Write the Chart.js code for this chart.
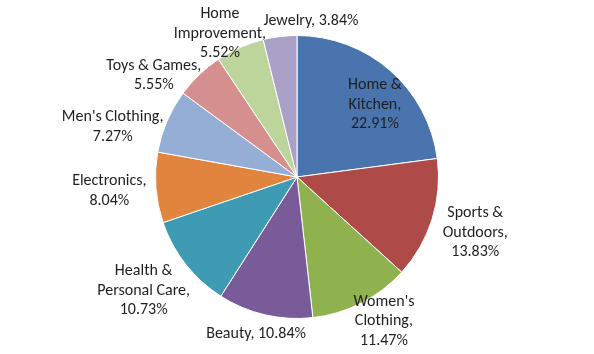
<!DOCTYPE html>
<html>
<head>
<meta charset="utf-8">
<script src="https://cdn.jsdelivr.net/npm/chart.js@4"></script>
<style>
  html, body { margin: 0; padding: 0; background: #fff; }
  #wrap { width: 594px; height: 354px; position: relative; }
</style>
</head>
<body>
<div id="wrap"><canvas id="pieChart"></canvas></div>
<script>
const categories = [
  'Home & Kitchen', 'Sports & Outdoors', "Women's Clothing", 'Beauty',
  'Health & Personal Care', 'Electronics', "Men's Clothing", 'Toys & Games',
  'Home Improvement', 'Jewelry'
];
const shares = [22.91, 13.83, 11.47, 10.84, 10.73, 8.04, 7.27, 5.55, 5.52, 3.84];
// how each label is broken into lines
const labelLines = [
  ['Home &', 'Kitchen,', '22.91%'],
  ['Sports &', 'Outdoors,', '13.83%'],
  ["Women's", 'Clothing,', '11.47%'],
  ['Beauty, 10.84%'],
  ['Health &', 'Personal Care,', '10.73%'],
  ['Electronics,', '8.04%'],
  ["Men's Clothing,", '7.27%'],
  ['Toys & Games,', '5.55%'],
  ['Home', 'Improvement,', '5.52%'],
  ['Jewelry, 3.84%']
];

const colors = ['#4a74ae', '#ae4a47', '#8fb14e', '#7a5b9a', '#3f9ab3',
  '#e0843e', '#94aed6', '#d58f8e', '#bdd49a', '#aba0c8'];

// label placement: [radius factor, angle shift in degrees]
const labelPlace = [
  [0.75, 6], [1.32, 0], [1.19, -4], [1.15, 1.5], [1.35, 1.5],
  [1.33, 0], [1.35, -8], [1.24, -11], [1.15, -4.5], [1.11, 12]
];

const labelPlugin = {
  id: 'sliceLabels',
  afterDatasetsDraw(chart) {
    const ctx = chart.ctx;
    const meta = chart.getDatasetMeta(0);
    ctx.save();
    ctx.font = '16px Carlito, Lato, sans-serif';
    ctx.fillStyle = '#1f1f1f';
    ctx.textAlign = 'center';
    ctx.textBaseline = 'middle';
    meta.data.forEach((arc, i) => {
      const p = arc.getProps(['x', 'y', 'startAngle', 'endAngle', 'outerRadius']);
      const a = (p.startAngle + p.endAngle) / 2 + labelPlace[i][1] * Math.PI / 180;
      const r = p.outerRadius * labelPlace[i][0];
      const cx = p.x + Math.cos(a) * r;
      const cy = p.y + Math.sin(a) * r;
      const lines = labelLines[i];
      const lh = 19.5;
      lines.forEach((t, k) => {
        ctx.fillText(t, cx, cy + (k - (lines.length - 1) / 2) * lh);
      });
    });
    ctx.restore();
  }
};

new Chart(document.getElementById('pieChart'), {
  type: 'pie',
  data: {
    labels: categories,
    datasets: [{
      data: shares,
      backgroundColor: colors,
      borderColor: '#ffffff',
      borderWidth: 1
    }]
  },
  options: {
    responsive: true,
    maintainAspectRatio: false,
    animation: false,
    layout: { padding: { top: 35, bottom: 35 } },
    plugins: {
      legend: { display: false },
      tooltip: { enabled: false }
    }
  },
  plugins: [labelPlugin]
});
</script>
</body>
</html>
